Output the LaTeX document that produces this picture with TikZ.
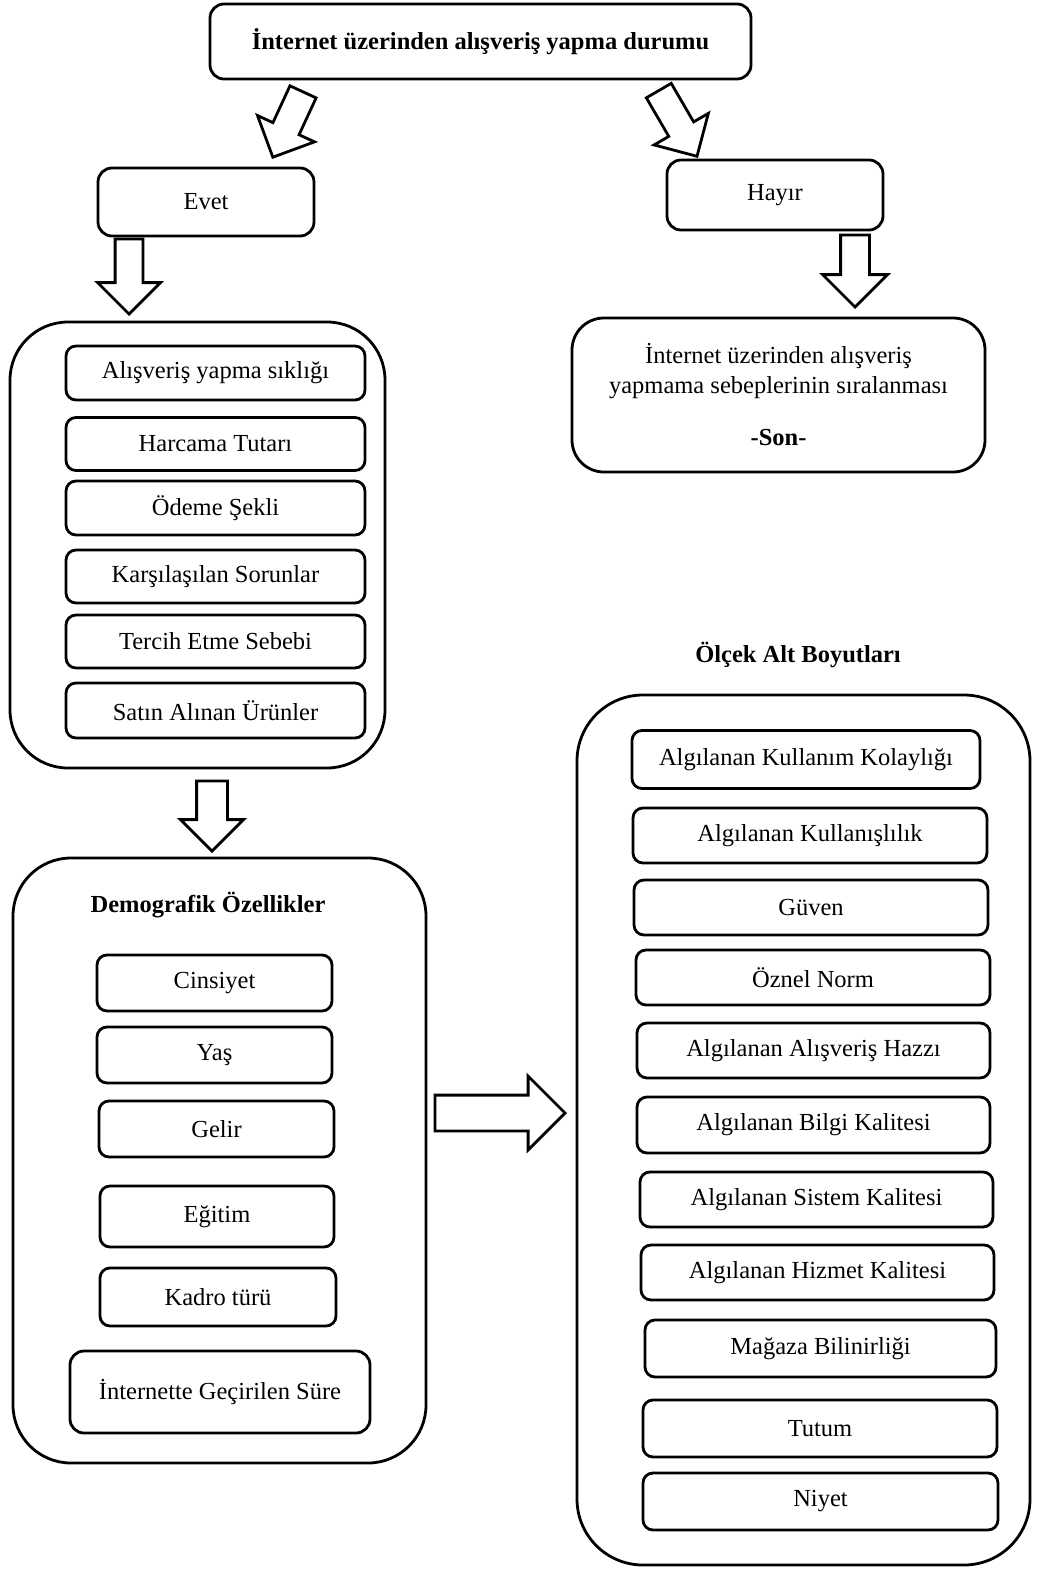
\documentclass[tikz,border=0pt]{standalone}
\usepackage{fontspec}
\setmainfont{Liberation Serif}
\usetikzlibrary{shapes.arrows}

\tikzset{
  txt/.style={font=\fontsize{24.5}{30}\selectfont},
  item/.style={draw, line width=2.8pt, rounded corners=10pt, align=center,
    inner sep=0pt, txt},
  panel/.style={draw, line width=2.8pt, rounded corners=58pt, inner sep=0pt},
  blockarrow/.style={single arrow, draw, line width=2.8pt, inner xsep=0pt,
    single arrow tip angle=90, anchor=tip},
}

\begin{document}
\begin{tikzpicture}[x=1pt, y=-1pt]
\useasboundingbox (0,0) rectangle (1036,1570);

% top question and the two answers
\node[item, rounded corners=14pt, minimum width=541pt, minimum height=75pt,
  font=\fontsize{24.5}{30}\selectfont\bfseries] (top) at (480.5,41.5)
  {İnternet üzerinden alışveriş yapma durumu};
\node[item, rounded corners=14pt, minimum width=216pt, minimum height=68pt] (evet) at (206,202) {Evet};
\node[item, rounded corners=14pt, minimum width=216pt, minimum height=70pt] (hayir) at (775,195) {Hayır};

% block arrows are placed by their tips
\node[blockarrow, minimum height=72pt, inner ysep=13pt, single arrow head extend=17pt,
  rotate=245.2] (aEvet) at (272,159) {};
\node[blockarrow, minimum height=76pt, inner ysep=13pt, single arrow head extend=17pt,
  rotate=-59.8] (aHayir) at (698,158) {};

% "no" branch
\node[blockarrow, minimum height=72pt, inner ysep=13pt, single arrow head extend=18pt,
  rotate=-90] (aSon) at (855,309) {};
\node[draw, line width=2.8pt, rounded corners=32pt, inner sep=0pt, align=center, txt,
  minimum width=413pt, minimum height=154pt] (sebep) at (778.5,395)
  {İnternet üzerinden alışveriş\\yapmama sebeplerinin sıralanması\\[22pt]\textbf{-Son-}};

% "yes" branch: shopping habits
\node[blockarrow, minimum height=75pt, inner ysep=12.5pt, single arrow head extend=17.5pt,
  rotate=-90] (aAlis) at (129,316) {};
\node[panel, minimum width=375pt, minimum height=446pt] (alis) at (197.5,545) {};
\node[item, minimum width=299pt, minimum height=54pt] (s1) at (215.5,373) {Alışveriş yapma sıklığı};
\node[item, minimum width=299pt, minimum height=53pt] (s2) at (215.5,444) {Harcama Tutarı};
\node[item, minimum width=299pt, minimum height=54pt] (s3) at (215.5,508) {Ödeme Şekli};
\node[item, minimum width=299pt, minimum height=53pt] (s4) at (215.5,576.5) {Karşılaşılan Sorunlar};
\node[item, minimum width=299pt, minimum height=53pt] (s5) at (215.5,641.5) {Tercih Etme Sebebi};
\node[item, minimum width=299pt, minimum height=55pt] (s6) at (215.5,710.5) {Satın Alınan Ürünler};

% demographics
\node[blockarrow, minimum height=70pt, inner ysep=14pt, single arrow head extend=16pt,
  rotate=-90] (aDemo) at (212,853) {};
\node[panel, minimum width=413pt, minimum height=605pt] (demo) at (219.5,1160.5) {};
\node[txt, font=\fontsize{24.5}{30}\selectfont\bfseries] (demoT) at (208,905) {Demografik Özellikler};
\node[item, minimum width=235pt, minimum height=56pt] (d1) at (214.5,983) {Cinsiyet};
\node[item, minimum width=235pt, minimum height=56pt] (d2) at (214.5,1055) {Yaş};
\node[item, minimum width=235pt, minimum height=56pt] (d3) at (216.5,1129) {Gelir};
\node[item, minimum width=234pt, minimum height=61pt] (d4) at (217,1216.5) {Eğitim};
\node[item, minimum width=236pt, minimum height=58pt] (d5) at (218,1297) {Kadro türü};
\node[item, minimum width=300pt, minimum height=82pt, rounded corners=14pt] (d6) at (220,1392) {İnternette Geçirilen Süre};

% scale sub-dimensions
\node[blockarrow, minimum height=130pt, inner ysep=16.5pt, single arrow head extend=19pt] (aOlcek) at (567,1113) {};
\node[txt, font=\fontsize{24.5}{30}\selectfont\bfseries] (olcekT) at (798,655) {Ölçek Alt Boyutları};
\node[panel, minimum width=453pt, minimum height=870pt, rounded corners=66pt] (olcek) at (803.5,1130) {};
\node[item, minimum width=348pt, minimum height=58pt] (o1) at (806,759.5) {Algılanan Kullanım Kolaylığı};
\node[item, minimum width=354pt, minimum height=55pt] (o2) at (810,835.5) {Algılanan Kullanışlılık};
\node[item, minimum width=354pt, minimum height=55pt] (o3) at (811,907.5) {Güven};
\node[item, minimum width=354pt, minimum height=55pt] (o4) at (813,977.5) {Öznel Norm};
\node[item, minimum width=353pt, minimum height=55pt] (o5) at (813.5,1050.5) {Algılanan Alışveriş Hazzı};
\node[item, minimum width=353pt, minimum height=56pt] (o6) at (813.5,1125) {Algılanan Bilgi Kalitesi};
\node[item, minimum width=353pt, minimum height=55pt] (o7) at (816.5,1199.5) {Algılanan Sistem Kalitesi};
\node[item, minimum width=353pt, minimum height=55pt] (o8) at (817.5,1272.5) {Algılanan Hizmet Kalitesi};
\node[item, minimum width=351pt, minimum height=57pt] (o9) at (820.5,1348.5) {Mağaza Bilinirliği};
\node[item, minimum width=354pt, minimum height=57pt] (o10) at (820,1428.5) {Tutum};
\node[item, minimum width=355pt, minimum height=57pt] (o11) at (820.5,1501.5) {Niyet};
\end{tikzpicture}
\end{document}
